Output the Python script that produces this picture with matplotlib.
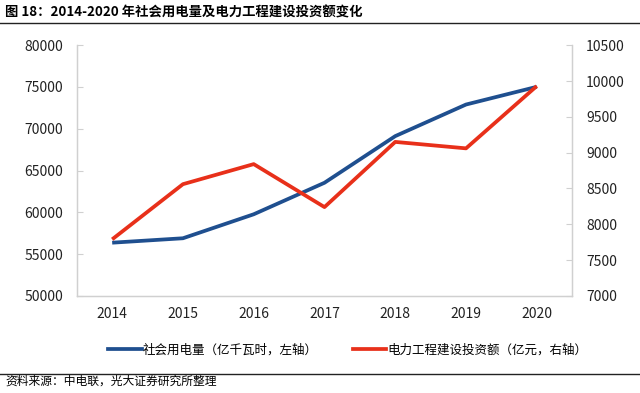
import matplotlib
matplotlib.use("Agg")
from matplotlib import pyplot as plt
from matplotlib.lines import Line2D

plt.rcParams['font.family'] = ['Noto Sans CJK SC', 'DejaVu Sans']

years = ["2014", "2015", "2016", "2017", "2018", "2019", "2020"]
# social electricity consumption, 100 million kWh (left axis)
power_use = [56370, 56900, 59770, 63540, 69120, 72900, 75020]
# power engineering investment, 100 million yuan (right axis)
invest = [7790, 8560, 8840, 8240, 9150, 9060, 9930]

BLUE = "#1f4f8f"
RED = "#e8301a"
GRID = "#d0d0d0"

fig = plt.figure(figsize=(6.4, 3.93), dpi=100)
ax = fig.add_axes([0.120, 0.247, 0.774, 0.638])
ax2 = ax.twinx()

x = range(len(years))
ax.plot(x, power_use, color=BLUE, lw=2.7, solid_capstyle="butt", zorder=3)
ax2.plot(x, invest, color=RED, lw=2.7, solid_capstyle="butt", zorder=3)

ax.set_xlim(-0.5, len(years) - 0.5)
ax.set_ylim(50000, 80000)
ax.set_yticks(range(50000, 80001, 5000))
ax2.set_ylim(7000, 10500)
ax2.set_yticks(range(7000, 10501, 500))
ax.set_xticks(list(x))
ax.set_xticklabels(years)

for a in (ax, ax2):
    for s in a.spines.values():
        s.set_color(GRID)
        s.set_linewidth(0.9)
    a.spines["top"].set_visible(False)
    a.tick_params(axis="y", direction="in", length=4, color=GRID,
                  labelsize=10, labelcolor="#222222", pad=10)
ax.tick_params(axis="x", length=0, labelsize=10, labelcolor="#222222", pad=8)

# legend
handles = [Line2D([], [], color=BLUE, lw=2.7),
           Line2D([], [], color=RED, lw=2.7)]
fig.legend(handles, ["社会用电量（亿千瓦时，左轴）", "电力工程建设投资额（亿元，右轴）"],
           loc="center", bbox_to_anchor=(0.543, 0.109), ncol=2, frameon=False,
           fontsize=9, handlelength=2.7, handletextpad=0.05, columnspacing=2.8)

# header and footer
fig.text(0.008, 0.968, "图 18：2014-2020 年社会用电量及电力工程建设投资额变化",
         fontsize=9.6, fontweight="bold", va="center", ha="left")
fig.add_artist(Line2D([0.0, 1.0], [0.941, 0.941], color="#222222", lw=1.0))
fig.add_artist(Line2D([0.0, 1.0], [0.048, 0.048], color="#222222", lw=1.0))
fig.text(0.008, 0.030, "资料来源：中电联，光大证券研究所整理",
         fontsize=8.5, va="center", ha="left")

fig.savefig("out.png", dpi=100)
